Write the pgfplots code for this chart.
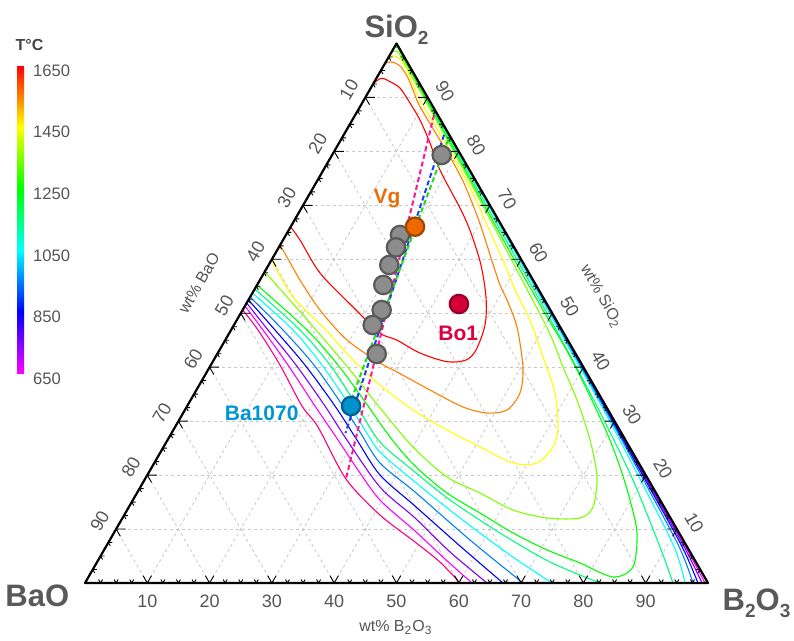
\documentclass[border=0pt]{standalone}
\usepackage{pgfplots}
\pgfplotsset{compat=1.18}
\usepackage{fontspec}
\setmainfont{Liberation Sans}
\definecolor{labgray}{RGB}{85,85,85}
\definecolor{titlegray}{RGB}{89,89,89}
\definecolor{gridgray}{RGB}{200,200,200}
\definecolor{c550}{RGB}{255,0,128}
\definecolor{c650}{RGB}{255,0,255}
\definecolor{c750}{RGB}{128,0,255}
\definecolor{c850}{RGB}{0,0,255}
\definecolor{c950}{RGB}{0,128,255}
\definecolor{c1050}{RGB}{0,255,255}
\definecolor{c1150}{RGB}{0,255,128}
\definecolor{c1250}{RGB}{0,255,0}
\definecolor{c1350}{RGB}{128,255,0}
\definecolor{c1450}{RGB}{255,255,0}
\definecolor{c1550}{RGB}{255,128,0}
\definecolor{c1650}{RGB}{255,0,0}
\definecolor{dpink}{RGB}{255,20,147}
\definecolor{dblue}{RGB}{30,60,255}
\definecolor{dgreen}{RGB}{30,220,30}
\definecolor{mkgray}{RGB}{140,140,140}
\definecolor{mkedge}{RGB}{90,90,90}
\definecolor{vgfill}{RGB}{236,104,0}
\definecolor{vgedge}{RGB}{160,70,0}
\definecolor{vgtext}{RGB}{232,112,10}
\definecolor{bofill}{RGB}{214,0,58}
\definecolor{boedge}{RGB}{150,0,40}
\definecolor{botext}{RGB}{220,0,64}
\definecolor{bafill}{RGB}{0,146,204}
\definecolor{baedge}{RGB}{0,95,140}
\definecolor{batext}{RGB}{0,150,214}
\pgfplotsset{/pgfplots/table/tern/.style={x expr=\thisrow{B}+0.5*\thisrow{S}, y expr=0.8660254*\thisrow{S}, row sep=\\}}
\newcommand{\sub}[1]{\raisebox{-0.22em}{\fontsize{9.5}{9.5}\selectfont #1}}
\tikzset{
 gridline/.style={gridgray, line width=0.4pt, dash pattern=on 1.5pt off 1.5pt},
 cline/.style={line width=0.55pt, smooth, tension=0.5},
 tk/.style={black, line width=0.45pt},
 ticklab/.style={font=\fontsize{9}{10}\selectfont, text=labgray, inner sep=0pt},
 dline/.style={line width=1pt, dash pattern=on 2.5pt off 1.5pt},
}
\begin{document}
\begin{tikzpicture}
\path[use as bounding box] (-42.5pt,-29pt) rectangle (354.5pt,291.5pt);
\begin{axis}[
 at={(0pt,0pt)}, anchor=south west,
 scale only axis, width=311.5pt, height=269.75pt,
 xmin=0, xmax=100, ymin=0, ymax=86.60254,
 hide axis, clip=false,
 colormap={hue}{rgb255(0cm)=(255,0,255); rgb255(2cm)=(0,0,255); rgb255(4cm)=(0,255,255); rgb255(6cm)=(0,255,0); rgb255(8cm)=(255,255,0); rgb255(10cm)=(255,0,0)},
 point meta min=650, point meta max=1650,
 colorbar,
 colorbar style={
   at={(parent axis.north west)}, anchor=north west, xshift=-42.5pt, yshift=-11pt,
   scale only axis, width=3.5pt, height=154pt,
   ytick={650,850,1050,1250,1450,1650},
   yticklabel style={font=\fontsize{8.3}{10}\selectfont, text=labgray, xshift=1pt, yshift=-2.5pt},
   /pgf/number format/1000 sep={}, /pgf/number format/assume math mode=true,
   major tick length=0pt, axis line style={draw=none},
 },
]
% grid
\pgfplotsinvokeforeach{10,20,...,90}{
  \draw[gridline] (axis cs:{0.5*#1},{0.8660254*#1}) -- (axis cs:{100-0.5*#1},{0.8660254*#1});
  \draw[gridline] (axis cs:#1,0) -- (axis cs:{#1+0.5*(100-#1)},{0.8660254*(100-#1)});
  \draw[gridline] (axis cs:{100-#1},0) -- (axis cs:{0.5*(100-#1)},{0.8660254*(100-#1)});
}
% contours (B = wt% B2O3, S = wt% SiO2)
\addplot[cline, c550] table[tern]{B S\\ 0 50.60\\ 4.32 46.90\\ 11.09 40.41\\ 18.42 32.81\\ 22.94 28.92\\ 32.25 19.28\\ 41.05 12.60\\ 49.17 7.60\\ 55.03 3.89\\ 60.19 0\\};
\addplot[cline, c650] table[tern]{B S\\ 0 51.34\\ 5.12 46.90\\ 12.37 40.41\\ 20.51 32.81\\ 26.76 27.06\\ 33.34 20.95\\ 39.66 15.38\\ 48.15 9.64\\ 55.56 4.45\\ 62.12 0\\};
\addplot[cline, c650] table[tern]{B S\\ 99.52 0\\ 93.09 6.67\\ 80.75 19.09\\ 69.12 30.77\\ 59.88 40.04\\ 47.48 52.46\\ 28.97 70.99\\ 10.45 89.53\\ 0 100\\};
\addplot[cline, c750] table[tern]{B S\\ 0 51.90\\ 5.92 46.90\\ 13.66 40.41\\ 22.11 32.81\\ 28.79 26.51\\ 38.45 17.79\\ 46.95 12.05\\ 55.72 5.75\\ 64.53 0\\};
\addplot[cline, c750] table[tern]{B S\\ 99.04 0\\ 92.85 6.67\\ 80.59 19.09\\ 69.02 30.77\\ 59.80 40.04\\ 47.43 52.46\\ 28.94 70.99\\ 10.43 89.53\\ 0 100\\};
\addplot[cline, c850] table[tern]{B S\\ 0 52.46\\ 7.05 46.90\\ 15.10 40.41\\ 23.72 32.81\\ 30.40 26.51\\ 37.34 20.02\\ 45.83 14.27\\ 56.76 6.86\\ 67.09 0\\};
\addplot[cline, c850] table[tern]{B S\\ 98.39 0\\ 92.53 6.67\\ 80.40 19.09\\ 68.91 30.77\\ 59.72 40.04\\ 47.36 52.46\\ 28.90 70.99\\ 10.41 89.53\\ 0 100\\};
\addplot[cline, c950] table[tern]{B S\\ 0 53.01\\ 8.33 46.90\\ 16.55 40.41\\ 25.00 32.81\\ 30.14 27.99\\ 36.23 22.24\\ 44.53 16.87\\ 57.81 7.97\\ 70.30 0\\};
\addplot[cline, c950] table[tern]{B S\\ 97.59 0\\ 92.05 6.67\\ 80.11 19.09\\ 68.75 30.77\\ 59.61 40.04\\ 47.28 52.46\\ 28.85 70.99\\ 10.39 89.53\\ 0 100\\};
\addplot[cline, c1050] table[tern]{B S\\ 0 53.75\\ 9.94 46.90\\ 17.83 40.41\\ 26.13 32.81\\ 30.76 28.36\\ 35.21 24.28\\ 43.61 18.72\\ 54.17 12.05\\ 65.62 5.19\\ 74.96 0\\};
\addplot[cline, c1050] table[tern]{B S\\ 96.31 0\\ 91.24 6.67\\ 79.63 19.09\\ 68.48 30.77\\ 59.40 40.04\\ 47.14 52.46\\ 28.77 70.99\\ 10.36 89.53\\ 0 100\\};
\addplot[cline, c1150] table[tern]{B S\\ 0 54.49\\ 11.06 46.90\\ 19.12 40.41\\ 27.25 32.81\\ 34.28 26.14\\ 42.68 20.57\\ 50.90 15.38\\ 61.97 9.27\\ 72.69 3.89\\ 82.66 0\\};
\addplot[cline, c1150] table[tern]{B S\\ 94.38 0\\ 88.96 6.67\\ 78.41 19.09\\ 67.67 30.77\\ 58.84 40.04\\ 46.74 52.46\\ 28.45 70.99\\ 10.23 89.53\\ 0 100\\};
\addplot[cline, c1250] table[tern]{B S\\ 0 99.2\\ 0.5 99.3\\ 1.5 98.3\\ 3 96.7\\ 5.5 94.2\\ 9.6 90\\ 19.36 80\\ 29.1 70\\ 38.88 60\\ 48.8 50\\ 55.69 43.19\\ 62.69 35.77\\ 69.89 27.80\\ 75.12 21.50\\ 79.79 15.38\\ 83.97 9.27\\ 86.48 2.97\\ 84.19 1.11\\ 77.60 3.71\\ 71.10 6.12\\ 64.07 9.27\\ 56.91 12.97\\ 49.77 16.68\\ 42.12 21.69\\ 35.43 27.06\\ 28.42 33.36\\ 20.40 40.41\\ 12.18 46.90\\ 0 55.24\\};
\addplot[cline, c1350] table[tern]{B S\\ 0 98.4\\ 0.7 98.6\\ 1.8 97.7\\ 3.5 95.9\\ 6.0 93.4\\ 9.83 89.53\\ 19.79 79.33\\ 27.89 70.99\\ 38.53 59.87\\ 45.61 52.46\\ 51.41 46.34\\ 56.71 40.04\\ 62.01 33.92\\ 67.81 26.51\\ 72.36 19.65\\ 74.50 14.09\\ 73.43 12.05\\ 68.14 12.05\\ 61.93 13.53\\ 55.06 16.68\\ 48.28 19.65\\ 40.04 25.21\\ 31.13 32.44\\ 22.80 39.48\\ 13.63 46.90\\ 0 57.70\\};
\addplot[cline, c1450] table[tern]{B S\\ 0 97.55\\ 0.92 97.68\\ 2.25 96.94\\ 4.15 95.09\\ 6.50 92.31\\ 9.01 89.53\\ 13.73 84.89\\ 19.24 79.33\\ 23.81 74.70\\ 27.26 70.99\\ 31.35 66.36\\ 37.15 59.87\\ 41.08 55.24\\ 43.59 52.46\\ 47.05 48.75\\ 52.57 41.89\\ 57.83 35.22\\ 61.46 28.92\\ 62.51 25.21\\ 61.43 22.24\\ 57.58 22.24\\ 50.79 25.21\\ 43.93 28.36\\ 36.62 32.07\\ 29.00 36.70\\ 21.59 41.89\\ 15.23 46.90\\ 6.88 53.01\\ 0 59.87\\};
\addplot[cline, c1550] table[tern]{B S\\ 0 96.33\\ 0.99 96.57\\ 2.64 95.83\\ 4.70 93.98\\ 6.96 91.38\\ 9.16 88.79\\ 13.06 84.89\\ 18.76 79.33\\ 23.24 74.70\\ 26.46 70.99\\ 30.30 66.36\\ 35.34 59.87\\ 38.99 55.24\\ 41.51 52.46\\ 45.61 47.45\\ 50.28 40.04\\ 52.21 35.22\\ 51.71 32.07\\ 48.77 31.51\\ 44.36 32.62\\ 37.49 35.77\\ 30.52 39.11\\ 26.96 40.78\\ 19.53 45.04\\ 12.42 50.60\\ 6.43 56.16\\ 0.92 61.72\\ 0 62.46\\};
\addplot[cline, c1650] table[tern]{B S\\ 0 92.68\\ 0.84 93.55\\ 2.50 92.92\\ 4.68 91.75\\ 7.68 88.97\\ 10.86 85.82\\ 14.60 81.56\\ 18.70 76.55\\ 25.78 69.14\\ 29.52 64.87\\ 34.09 58.94\\ 37.96 52.83\\ 40.30 47.82\\ 41.17 43.19\\ 40.49 41.33\\ 37.60 41.02\\ 32.45 42.63\\ 27.51 45.04\\ 24.18 46.34\\ 17.44 51.16\\ 8.99 57.46\\ 2.72 63.58\\ 0 65.99\\};
% dashed lines
\addplot[dline, dpink] table[tern]{B S\\ 12.65 86.75\\ 32.25 19.28\\};
\addplot[dline, dblue] table[tern]{B S\\ 16.10 83.04\\ 27.91 27.80\\};
\addplot[dline, dgreen] table[tern]{B S\\ 17.21 82.11\\ 25.71 34.29\\};
% frame
\draw[black, line width=1.1pt, line join=round] (axis cs:0,0) -- (axis cs:100,0) -- (axis cs:50,86.60254) -- cycle;
% ticks
\pgfplotsinvokeforeach{10,20,...,90}{
  \draw[tk] (axis cs:#1,0) -- ++(60:4.2pt) (axis cs:#1,0) -- ++(120:4.2pt);
  \draw[tk] (axis cs:{0.5*(100-#1)},{0.8660254*(100-#1)}) -- ++(0:4.8pt) (axis cs:{0.5*(100-#1)},{0.8660254*(100-#1)}) -- ++(-60:4.2pt);
  \draw[tk] (axis cs:{100-0.5*#1},{0.8660254*#1}) -- ++(180:4.8pt) (axis cs:{100-0.5*#1},{0.8660254*#1}) -- ++(240:4.2pt);
  \node[ticklab] at ([yshift=-9pt]axis cs:#1,0) {#1};
  \node[ticklab, rotate=60] at ([xshift=-8.2pt,yshift=4pt]axis cs:{0.5*(100-#1)},{0.8660254*(100-#1)}) {#1};
  \node[ticklab, rotate=-60] at ([xshift=8.7pt,yshift=3.2pt]axis cs:{100-0.5*#1},{0.8660254*#1}) {#1};
}
\pgfplotsinvokeforeach{2.5,5,7.5,12.5,15,17.5,22.5,25,27.5,32.5,35,37.5,42.5,45,47.5,52.5,55,57.5,62.5,65,67.5,72.5,75,77.5,82.5,85,87.5,92.5,95,97.5}{
  \draw[tk] (axis cs:#1,0) -- ++(60:2pt) (axis cs:#1,0) -- ++(120:2pt);
  \draw[tk] (axis cs:{0.5*(100-#1)},{0.8660254*(100-#1)}) -- ++(0:2pt) (axis cs:{0.5*(100-#1)},{0.8660254*(100-#1)}) -- ++(-60:2pt);
  \draw[tk] (axis cs:{100-0.5*#1},{0.8660254*#1}) -- ++(180:2pt) (axis cs:{100-0.5*#1},{0.8660254*#1}) -- ++(240:2pt);
}
% markers
\addplot[only marks, mark=*, mark size=4.6pt, mark options={fill=mkgray, draw=mkedge, line width=1.1pt}] table[tern]{B S\\ 17.59 79.33\\ 18.31 64.50\\ 18.81 62.22\\ 19.37 58.94\\ 20.26 55.24\\ 22.32 50.60\\ 22.27 47.82\\ 25.60 42.45\\};
\addplot[only marks, mark=*, mark size=4.6pt, mark options={fill=vgfill, draw=vgedge, line width=1.1pt}] table[tern]{B S\\ 19.95 66.04\\};
\addplot[only marks, mark=*, mark size=4.6pt, mark options={fill=bofill, draw=boedge, line width=1.1pt}] table[tern]{B S\\ 34.17 51.71\\};
\addplot[only marks, mark=*, mark size=4.6pt, mark options={fill=bafill, draw=baedge, line width=1.1pt}] table[tern]{B S\\ 26.30 32.81\\};
% labels
\node[font=\bfseries\fontsize{10.5}{12}\selectfont, text=vgtext] at (axis cs:48.5,61.8) {Vg};
\node[font=\bfseries\fontsize{10.5}{12}\selectfont, text=botext] at (axis cs:59.9,40.1) {Bo1};
\node[font=\bfseries\fontsize{10.5}{12}\selectfont, text=batext] at (axis cs:28.36,27.3) {Ba1070};
\node[font=\bfseries\fontsize{15.5}{18}\selectfont, text=titlegray, anchor=base] at (axis cs:50,87.5) {SiO\sub{2}};
\node[font=\bfseries\fontsize{15.5}{18}\selectfont, text=titlegray, anchor=base east] at (axis cs:-1.4,-3.85) {BaO};
\node[font=\bfseries\fontsize{15.5}{18}\selectfont, text=titlegray, anchor=base west, inner sep=0pt] at (axis cs:102.3,-4.4) {B\sub{2}O\sub{3}};
\node[font=\fontsize{8}{10}\selectfont, text=labgray] at (axis cs:49.9,-7.2) {wt\% B\textsubscript{2}O\textsubscript{3}};
\node[font=\fontsize{8}{10}\selectfont, text=labgray, rotate=60] at (axis cs:18.3,48.15) {wt\% BaO};
\node[font=\fontsize{8}{10}\selectfont, text=labgray, rotate=-60] at (axis cs:82.9,46.0) {wt\% SiO\textsubscript{2}};
\node[font=\bfseries\fontsize{8}{10}\selectfont, text=labgray!80!black] at (axis cs:-8.9,86.4) {T°C};
\end{axis}
\end{tikzpicture}
\end{document}
